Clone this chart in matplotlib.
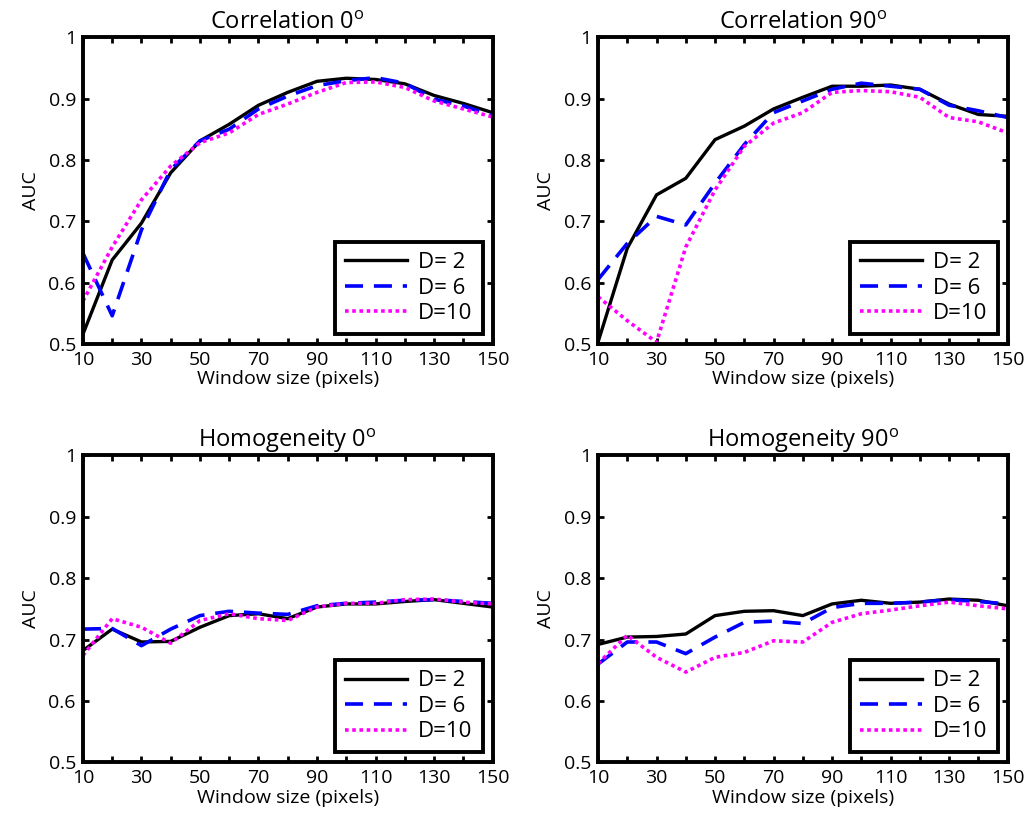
import numpy as np
import matplotlib
matplotlib.use('Agg')
import matplotlib.pyplot as plt

plt.rcParams['font.family'] = ['Open Sans', 'DejaVu Sans']
plt.rcParams['mathtext.fontset'] = 'custom'
plt.rcParams['mathtext.rm'] = 'Open Sans'

window = [10, 20, 30, 40, 50, 60, 70, 80, 90, 100, 110, 120, 130, 140, 150]

corr0_d2 = [0.516, 0.637, 0.697, 0.779, 0.831, 0.858, 0.889, 0.910, 0.928, 0.933, 0.931, 0.924, 0.905, 0.892, 0.877]
corr0_d6 = [0.648, 0.546, 0.686, 0.784, 0.831, 0.850, 0.883, 0.904, 0.921, 0.929, 0.934, 0.925, 0.899, 0.888, 0.872]
corr0_d10 = [0.570, 0.658, 0.735, 0.790, 0.828, 0.844, 0.874, 0.891, 0.910, 0.926, 0.927, 0.918, 0.896, 0.883, 0.870]

corr90_d2 = [0.503, 0.656, 0.743, 0.770, 0.833, 0.855, 0.883, 0.902, 0.920, 0.920, 0.922, 0.915, 0.891, 0.874, 0.871]
corr90_d6 = [0.605, 0.664, 0.708, 0.694, 0.762, 0.825, 0.877, 0.896, 0.915, 0.925, 0.920, 0.915, 0.889, 0.880, 0.869]
corr90_d10 = [0.577, 0.538, 0.503, 0.658, 0.751, 0.822, 0.860, 0.877, 0.910, 0.913, 0.911, 0.902, 0.869, 0.862, 0.844]

hom0_d2 = [0.682, 0.717, 0.696, 0.697, 0.720, 0.739, 0.742, 0.734, 0.753, 0.758, 0.758, 0.762, 0.765, 0.759, 0.753]
hom0_d6 = [0.717, 0.718, 0.690, 0.717, 0.739, 0.746, 0.743, 0.741, 0.755, 0.759, 0.761, 0.764, 0.765, 0.762, 0.759]
hom0_d10 = [0.674, 0.734, 0.720, 0.694, 0.731, 0.742, 0.734, 0.731, 0.753, 0.759, 0.759, 0.765, 0.766, 0.761, 0.758]

hom90_d2 = [0.692, 0.704, 0.705, 0.709, 0.739, 0.746, 0.747, 0.739, 0.758, 0.764, 0.759, 0.761, 0.766, 0.764, 0.755]
hom90_d6 = [0.660, 0.696, 0.696, 0.677, 0.704, 0.728, 0.730, 0.726, 0.752, 0.759, 0.759, 0.761, 0.765, 0.762, 0.758]
hom90_d10 = [0.661, 0.707, 0.671, 0.647, 0.671, 0.679, 0.698, 0.696, 0.728, 0.742, 0.748, 0.755, 0.761, 0.755, 0.750]

titles = ['Correlation 0$^{\\mathrm{o}}$', 'Correlation 90$^{\\mathrm{o}}$',
          'Homogeneity 0$^{\\mathrm{o}}$', 'Homogeneity 90$^{\\mathrm{o}}$']
panels = [(corr0_d2, corr0_d6, corr0_d10), (corr90_d2, corr90_d6, corr90_d10),
          (hom0_d2, hom0_d6, hom0_d10), (hom90_d2, hom90_d6, hom90_d10)]
labels = ['D= 2', 'D= 6', 'D=10']

fig = plt.figure(figsize=(10.24, 8.25), dpi=100)
positions = [[0.081, 0.583, 0.400, 0.372], [0.584, 0.583, 0.400, 0.372],
             [0.081, 0.076, 0.400, 0.372], [0.584, 0.076, 0.400, 0.372]]

for pos, title, (d2, d6, d10) in zip(positions, titles, panels):
    ax = fig.add_axes(pos)
    ax.plot(window, d2, color='black', lw=2.4, ls='-', label=labels[0])
    ax.plot(window, d6, color='blue', lw=2.6, ls=(0, (5, 3)), label=labels[1])
    ax.plot(window, d10, color='magenta', lw=2.6, ls=(0, (1, 1)), label=labels[2])
    ax.set_xlim(10, 150)
    ax.set_ylim(0.5, 1)
    ax.set_xticks(range(10, 151, 10))
    ax.set_xticklabels([str(v) if v % 20 == 10 else '' for v in range(10, 151, 10)])
    ax.set_yticks([0.5, 0.6, 0.7, 0.8, 0.9, 1.0])
    ax.set_yticklabels(['0.5', '0.6', '0.7', '0.8', '0.9', '1'])
    ax.tick_params(direction='in', top=True, right=True, length=4, width=2, labelsize=14, pad=5)
    for s in ax.spines.values():
        s.set_linewidth(2.8)
    ax.set_title(title, fontsize=17, pad=6)
    ax.set_xlabel('Window size (pixels)', fontsize=14, labelpad=1)
    ax.set_ylabel('AUC', fontsize=14, labelpad=6)
    leg = ax.legend(loc='lower right', fontsize=16, handlelength=2.8, fancybox=False,
                    edgecolor='black', framealpha=1, borderaxespad=0.45,
                    labelspacing=0.2, handletextpad=0.5, borderpad=0.45)
    leg.get_frame().set_linewidth(2.8)

plt.savefig('out.png')
